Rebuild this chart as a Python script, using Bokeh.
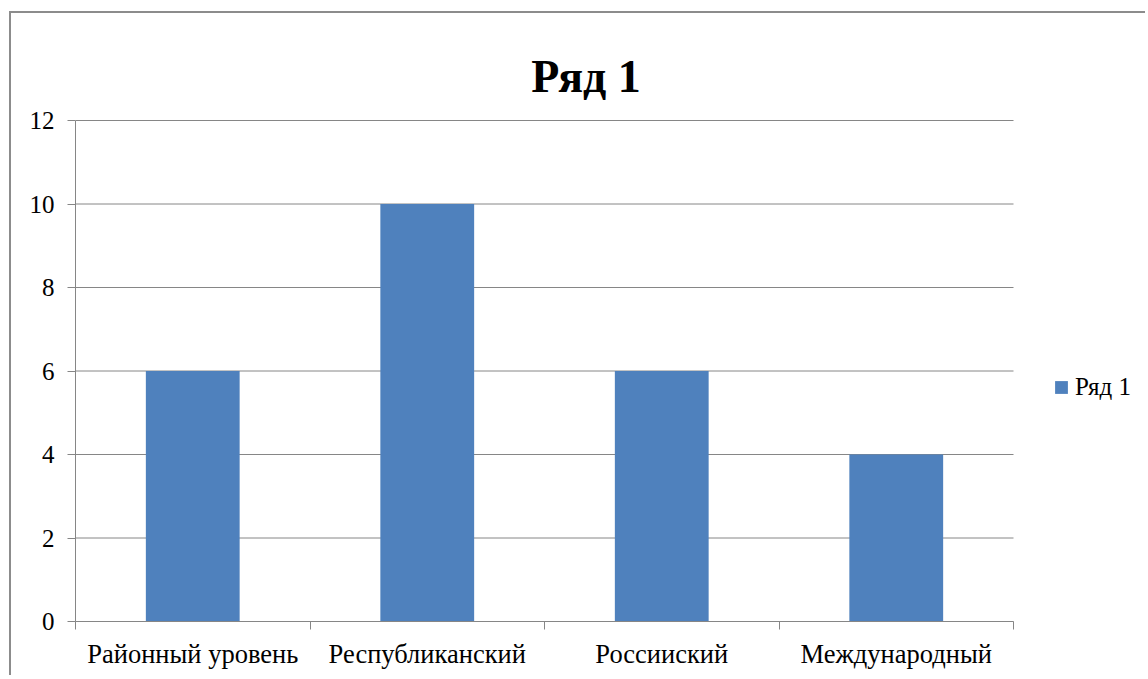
from bokeh.plotting import figure
from bokeh.models import FixedTicker, Legend, LegendItem, ColumnDataSource, Range1d, Label
from bokeh.embed import file_html
from bokeh.resources import INLINE

categories = ["Районный уровень", "Республиканский", "Россииский", "Международный"]
values = [6, 10, 6, 4]
series_name = "Ряд 1"
y_ticks = [0, 2, 4, 6, 8, 10, 12]

FONT = "Liberation Serif"
GREY = "#868686"
BLUE = "#4F81BD"

n = len(categories)
y_max = y_ticks[-1]
x_pos = [i + 0.5 for i in range(n)]
src = ColumnDataSource(dict(x=x_pos, top=values, cat=categories))

W, H = 1136, 664
LEFT = 64            # space left of the plotting area
BOTTOM = 56          # space below the plotting area
PLOT_PX = 938        # pixel width that holds the categories
PLOT_PY = 501        # pixel height that holds 0..12
# the frame runs to the right and top edges so the legend and title can sit in it
x_end = n * (W - LEFT) / PLOT_PX
y_end = y_max * (H - BOTTOM) / PLOT_PY

p = figure(width=W, height=H, output_backend="svg", toolbar_location=None,
           x_range=Range1d(0, x_end), y_range=Range1d(0, y_end),
           min_border_left=LEFT, min_border_top=0, min_border_right=0, min_border_bottom=BOTTOM)
p.styles = {"margin-left": "9px", "margin-top": "11px",
            "border-left": "2px solid #8c8c8c", "border-top": "2px solid #8c8c8c"}
p.outline_line_color = None
p.background_fill_color = "white"
p.border_fill_color = "white"

# horizontal grid lines, limited to the category area
p.segment(x0=0, x1=n, y0=y_ticks, y1=y_ticks, line_color=GREY, line_width=1)

r = p.vbar(x="x", top="top", width=0.4, bottom=0, source=src, fill_color=BLUE, line_color=None)

# title (centre of the title, in pixels -> data)
title_x = (585.5 - 75) / PLOT_PX * n
title_y = y_max + (121 - 77) / PLOT_PY * y_max
title = Label(x=title_x, y=title_y, text=series_name, text_font=FONT,
              text_font_size="46px", text_font_style="bold", text_color="black",
              text_align="center", text_baseline="alphabetic")
p.add_layout(title)

# x axis
p.xaxis.bounds = (0, n)
p.xaxis.ticker = FixedTicker(ticks=x_pos, minor_ticks=list(range(n + 1)))
p.xaxis.major_label_overrides = {x: c for x, c in zip(x_pos, categories)}
p.xaxis.major_tick_line_color = None
p.xaxis.major_tick_out = 8
p.xaxis.major_tick_in = 0
p.xaxis.minor_tick_line_color = GREY
p.xaxis.minor_tick_in = 0
p.xaxis.minor_tick_out = 8
p.xaxis.axis_line_color = GREY
p.xaxis.major_label_text_font = FONT
p.xaxis.major_label_text_font_size = "26.5px"
p.xaxis.major_label_text_color = "black"
p.xaxis.major_label_standoff = 9

# y axis
p.yaxis.bounds = (0, y_max)
p.yaxis.ticker = FixedTicker(ticks=y_ticks)
p.yaxis.major_tick_line_color = GREY
p.yaxis.major_tick_in = 0
p.yaxis.major_tick_out = 8
p.yaxis.minor_tick_line_color = None
p.yaxis.axis_line_color = GREY
p.yaxis.major_label_text_font = FONT
p.yaxis.major_label_text_font_size = "25px"
p.yaxis.major_label_text_color = "black"
p.yaxis.major_label_standoff = 13

p.xgrid.grid_line_color = None
p.ygrid.grid_line_color = None

legend = Legend(items=[LegendItem(label=series_name, renderers=[r])],
                location=(978, 220), glyph_width=16, glyph_height=16,
                label_text_font=FONT, label_text_font_size="25px", label_standoff=6,
                label_text_color="black",
                padding=0, margin=0, border_line_color=None, background_fill_alpha=0)
p.add_layout(legend)

open("out.html", "w").write(file_html(p, INLINE))
